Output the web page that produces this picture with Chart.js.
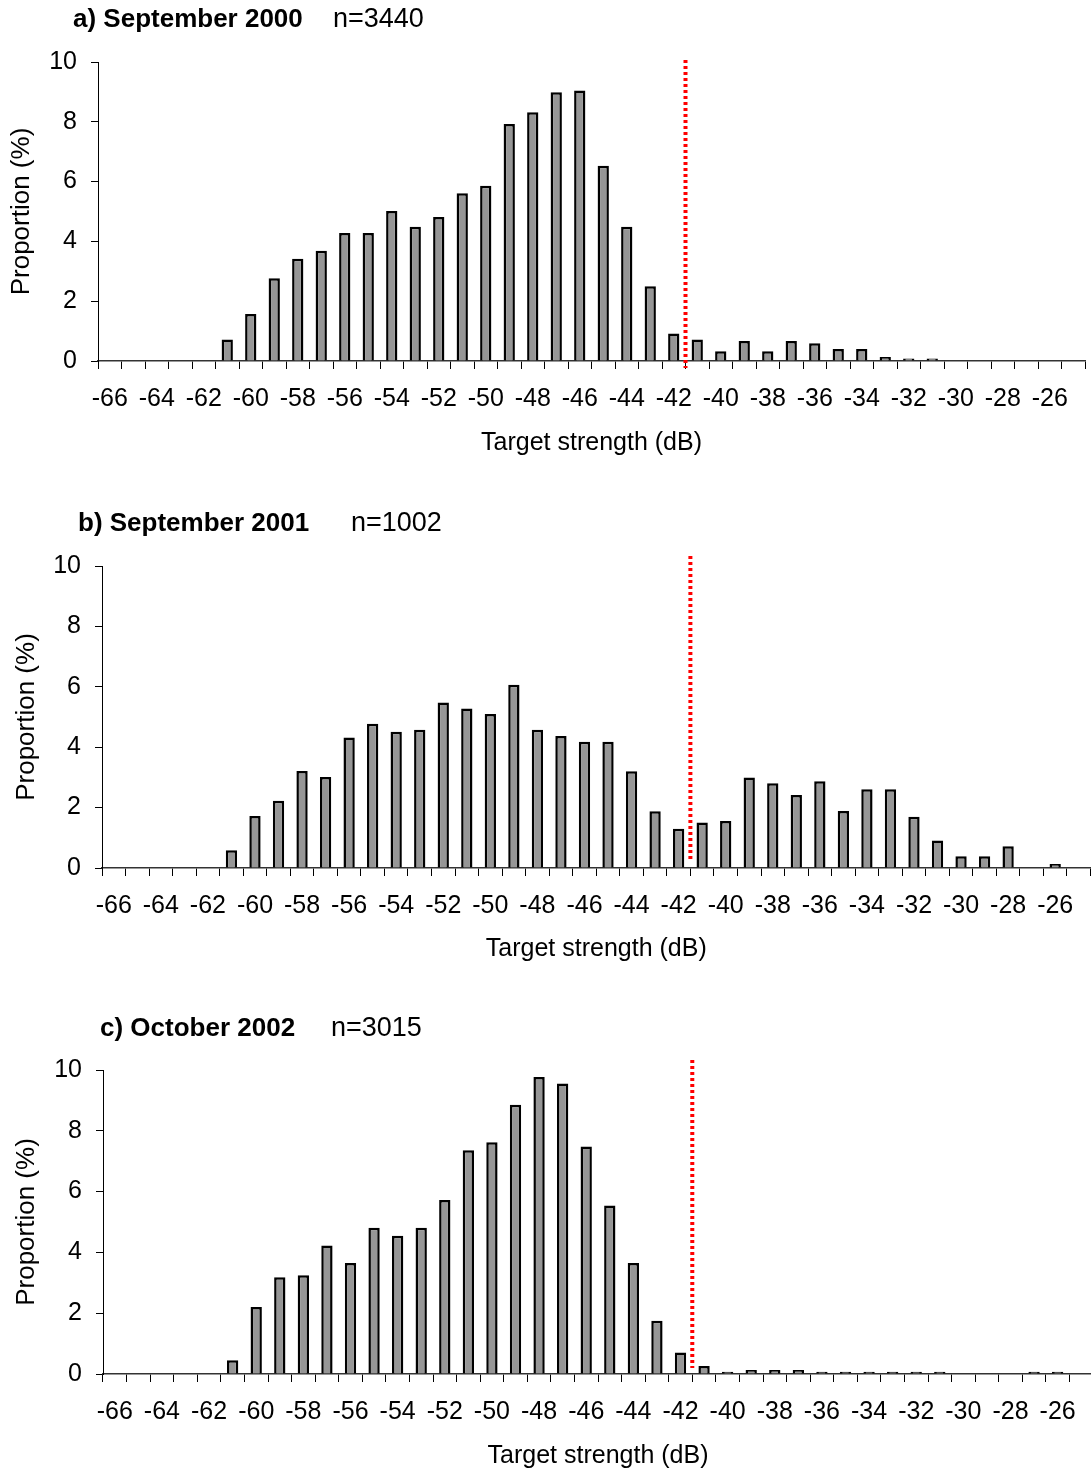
<!DOCTYPE html>
<html>
<head>
<meta charset="utf-8">
<script src="https://cdn.jsdelivr.net/npm/chart.js@4.4.0/dist/chart.umd.min.js"></script>
<style>
  html, body { margin: 0; padding: 0; background: #fff; overflow: hidden; }
  .panel { position: absolute; left: 0; }
</style>
</head>
<body>
<canvas id="chartA" class="panel" width="1100" height="463" style="top:0px"></canvas>
<canvas id="chartB" class="panel" width="1100" height="463" style="top:504px"></canvas>
<canvas id="chartC" class="panel" width="1100" height="463" style="top:1008px"></canvas>
<script>
  // -----Target strength classes (dB), one bar per class
  const categories = [-66, -65, -64, -63, -62, -61, -60, -59, -58, -57, -56, -55, -54, -53,
    -52, -51, -50, -49, -48, -47, -46, -45, -44, -43, -42, -41, -40, -39, -38, -37, -36,
    -35, -34, -33, -32, -31, -30, -29, -28, -27, -26, -25];

  // proportion (%) per class
  const sept2000 = [0, 0, 0, 0, 0, 0.72, 1.57, 2.77, 3.42, 3.69, 4.28, 4.28, 5.02, 4.49,
    4.82, 5.61, 5.86, 7.93, 8.32, 8.99, 9.05, 6.53, 4.49, 2.50, 0.92, 0.72, 0.33, 0.67,
    0.33, 0.67, 0.59, 0.40, 0.40, 0.13, 0.08, 0.08, 0, 0, 0, 0, 0, 0];
  const sept2001 = [0, 0, 0, 0, 0, 0.59, 1.72, 2.23, 3.21, 3.01, 4.32, 4.78, 4.51, 4.58,
    5.48, 5.28, 5.10, 6.07, 4.58, 4.37, 4.18, 4.18, 3.20, 1.88, 1.30, 1.51, 1.56, 3.00,
    2.81, 2.42, 2.87, 1.89, 2.61, 2.61, 1.70, 0.91, 0.39, 0.39, 0.72, 0, 0.13, 0];
  const oct2002 = [0, 0, 0, 0, 0, 0.45, 2.20, 3.18, 3.25, 4.23, 3.65, 4.81, 4.55, 4.81,
    5.72, 7.36, 7.62, 8.86, 9.77, 9.56, 7.48, 5.54, 3.65, 1.75, 0.71, 0.26, 0.07, 0.13,
    0.13, 0.13, 0.07, 0.07, 0.07, 0.07, 0.07, 0.07, 0, 0, 0, 0.07, 0.07, 0];

  const yTicks = [0, 2, 4, 6, 8, 10];
  const thresholdDb = -41.5;   // red dotted line

  const FONT = "'Liberation Sans', Arial, sans-serif";
  const CANVAS_W = 1100, CANVAS_H = 463;

  // red dotted threshold line, drawn between the two classes around thresholdDb
  const thresholdLine = {
    id: 'thresholdLine',
    afterDatasetsDraw(chart, args, opts) {
      const xs = chart.scales.x, ys = chart.scales.y;
      const lo = Math.floor(thresholdDb), hi = Math.ceil(thresholdDb);
      const pLo = xs.getPixelForValue(categories.indexOf(lo));
      const pHi = xs.getPixelForValue(categories.indexOf(hi));
      const px = pLo + (pHi - pLo) * (thresholdDb - lo);
      const ctx = chart.ctx;
      ctx.save();
      ctx.strokeStyle = '#ff0000';
      ctx.lineWidth = 4;
      ctx.setLineDash([3, 3]);
      ctx.beginPath();
      ctx.moveTo(px, ys.getPixelForValue(opts.from));
      ctx.lineTo(px, ys.getPixelForValue(opts.to));
      ctx.stroke();
      ctx.restore();
    }
  };

  // panel heading: bold label + sample size
  const panelHeader = {
    id: 'panelHeader',
    afterDraw(chart, args, opts) {
      const ctx = chart.ctx;
      ctx.save();
      ctx.fillStyle = '#000';
      ctx.textBaseline = 'middle';
      ctx.textAlign = 'left';
      ctx.font = 'bold 26px ' + FONT;
      ctx.fillText(opts.label, opts.labelX, opts.y);
      ctx.font = '27px ' + FONT;
      ctx.fillText(opts.n, opts.nX, opts.y);
      ctx.restore();
    }
  };

  function makeOptions(p) {
    return {
      responsive: false,
      animation: false,
      layout: { padding: { top: p.top, right: CANVAS_W - p.right, bottom: 0, left: 0 } },
      plugins: {
        legend: { display: false },
        tooltip: { enabled: false },
        thresholdLine: { from: p.lineFrom, to: p.lineTo },
        panelHeader: { label: p.label, labelX: p.labelX, n: p.n, nX: p.nX, y: p.headY }
      },
      scales: {
        x: {
          offset: true,
          grid: { offset: true, drawOnChartArea: false, tickLength: 8, color: '#000', lineWidth: 1 },
          border: { color: '#333', width: 1.5 },
          ticks: {
            autoSkip: false,
            maxRotation: 0,
            padding: 15,
            color: '#000',
            font: { family: FONT, size: 25 },
            callback: function (v, i) {
              const c = categories[i];
              return c % 2 === 0 ? String(c) : '';
            }
          },
          title: {
            display: true,
            text: 'Target strength (dB)',
            color: '#000',
            font: { family: FONT, size: 25 },
            padding: { top: 0, bottom: p.xTitlePad }
          },
          afterFit: function (s) { s.height = CANVAS_H - p.bottom; }
        },
        y: {
          min: 0,
          max: 10,
          afterBuildTicks: function (s) { s.ticks = yTicks.map(v => ({ value: v })); },
          grid: { drawOnChartArea: false, tickLength: 7, color: '#000', lineWidth: 1 },
          border: { color: '#000', width: 1 },
          ticks: { padding: 14, color: '#000', font: { family: FONT, size: 25 } },
          title: {
            display: true,
            text: 'Proportion (%)',
            color: '#000',
            font: { family: FONT, size: 26 },
            padding: { top: p.yTitlePad, bottom: 0 }
          },
          afterFit: function (s) { s.width = p.left; }
        }
      }
    };
  }

  function makeData(values) {
    return {
      labels: categories,
      datasets: [{
        data: values,
        backgroundColor: '#969696',
        borderColor: '#000',
        borderWidth: 2.5,
        barPercentage: 0.48,
        categoryPercentage: 1
      }]
    };
  }

  // September 2000
  new Chart(document.getElementById('chartA'), {
    type: 'bar',
    data: makeData(sept2000),
    options: makeOptions({
      left: 98, right: 1085, top: 62, bottom: 361,
      xTitlePad: 5, yTitlePad: 6.4, lineFrom: 10.07, lineTo: -0.23,
      label: 'a) September 2000', labelX: 73, n: 'n=3440', nX: 333, headY: 20
    }),
    plugins: [thresholdLine, panelHeader]
  });

  // September 2001
  new Chart(document.getElementById('chartB'), {
    type: 'bar',
    data: makeData(sept2001),
    options: makeOptions({
      left: 102, right: 1090.5, top: 62, bottom: 364,
      xTitlePad: 3, yTitlePad: 11.4, lineFrom: 10.33, lineTo: 0.2,
      label: 'b) September 2001', labelX: 78, n: 'n=1002', nX: 351, headY: 20
    }),
    plugins: [thresholdLine, panelHeader]
  });

  // October 2002
  new Chart(document.getElementById('chartC'), {
    type: 'bar',
    data: makeData(oct2002),
    options: makeOptions({
      left: 103, right: 1093, top: 62, bottom: 366,
      xTitlePad: 0, yTitlePad: 11.4, lineFrom: 10.33, lineTo: 0.2,
      label: 'c) October 2002', labelX: 100, n: 'n=3015', nX: 331, headY: 21
    }),
    plugins: [thresholdLine, panelHeader]
  });
</script>
</body>
</html>
